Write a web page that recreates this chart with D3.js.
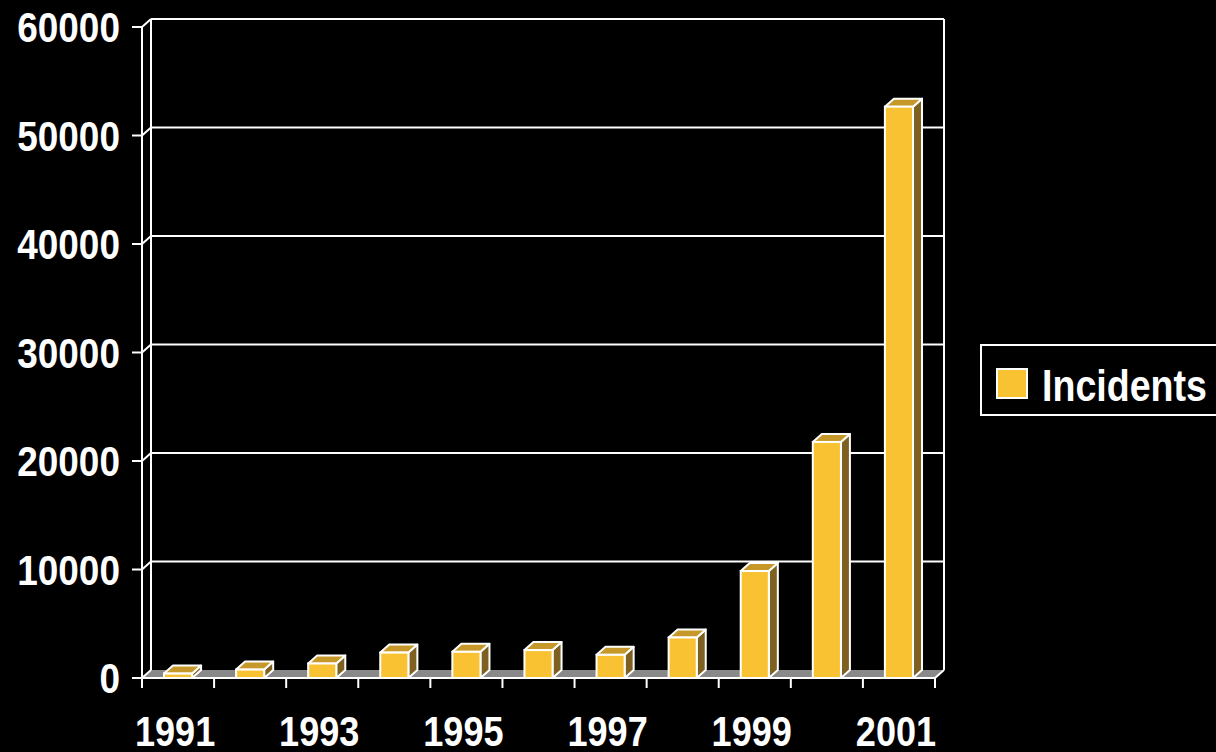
<!DOCTYPE html>
<html>
<head>
<meta charset="utf-8">
<script src="https://cdn.jsdelivr.net/npm/d3@7"></script>
<style>
  html, body { margin: 0; padding: 0; background: #000; }
  svg { display: block; }
  text { font-family: "Liberation Sans", Arial, sans-serif; font-weight: bold; fill: #fff; }
</style>
</head>
<body>
<svg id="chart" width="1216" height="752"></svg>
<script>
// CERT/CC reported incidents per year
const years = ["1991","1992","1993","1994","1995","1996","1997","1998","1999","2000","2001"];
const incidents = [406, 773, 1334, 2340, 2412, 2573, 2134, 3734, 9859, 21756, 52658];
const yTicks = [0, 10000, 20000, 30000, 40000, 50000, 60000];
const xLabels = ["1991","1993","1995","1997","1999","2001"];
const seriesName = "Incidents";

const W = 1216, H = 752;
const plotLeft = 142, plotRight = 935, plotTop = 27, plotBottom = 678;
const dx = 9, dy = 8;              // depth offset of the 3D box
const narrow = 0.86;               // horizontal squeeze for a condensed look
const colFront = "#f9c232", colTop = "#c6982a", colSide = "#7e6120", colFloor = "#898989";

const svg = d3.select("#chart");
svg.append("rect").attr("width", W).attr("height", H).attr("fill", "#000");

const x = d3.scaleBand().domain(years).range([plotLeft, plotRight]).padding(0);
const y = d3.scaleLinear().domain([0, 60000]).range([plotBottom, plotTop]);
const barW = x.bandwidth() * 0.39;

function line(g, x1, y1, x2, y2) {
  return g.append("line").attr("x1", x1).attr("y1", y1).attr("x2", x2).attr("y2", y2)
    .attr("stroke", "#fff").attr("stroke-width", 2);
}
const pts = a => a.map(p => p.join(",")).join(" ");
function label(g, tx, ty, str, size, anchor, sx) {
  return g.append("text")
    .attr("transform", `translate(${tx},${ty}) scale(${sx},1)`)
    .attr("text-anchor", anchor)
    .style("font-size", size + "px")
    .text(str);
}

// floor
svg.append("polygon")
  .attr("points", pts([[plotLeft, plotBottom], [plotRight, plotBottom], [plotRight + dx, plotBottom - dy], [plotLeft + dx, plotBottom - dy]]))
  .attr("fill", colFloor);

// back wall: gridlines and edges
const grid = svg.append("g");
yTicks.filter(t => t > 0).forEach(t => {
  line(grid, plotLeft + dx, y(t) - dy, plotRight + dx, y(t) - dy);
  line(grid, plotLeft, y(t), plotLeft + dx, y(t) - dy);
});
line(grid, plotLeft + dx, y(60000) - dy, plotLeft + dx, plotBottom - dy);
line(grid, plotRight + dx, y(60000) - dy, plotRight + dx, plotBottom - dy);
line(grid, plotLeft, plotBottom, plotLeft + dx, plotBottom - dy);
line(grid, plotRight, plotBottom, plotRight + dx, plotBottom - dy);

// bars
const bars = svg.append("g").selectAll("g").data(years.map((yr, i) => ({ yr, v: incidents[i] }))).join("g");
bars.each(function (d) {
  const g = d3.select(this);
  const x0 = x(d.yr) + (x.bandwidth() - barW) / 2, x1 = x0 + barW;
  const yv = y(d.v), y0 = y(0);
  g.append("polygon").attr("points", pts([[x1, yv], [x1 + dx, yv - dy], [x1 + dx, y0 - dy], [x1, y0]]))
    .attr("fill", colSide).attr("stroke", "#fff").attr("stroke-width", 2).attr("stroke-linejoin", "round");
  g.append("polygon").attr("points", pts([[x0, yv], [x0 + dx, yv - dy], [x1 + dx, yv - dy], [x1, yv]]))
    .attr("fill", colTop).attr("stroke", "#fff").attr("stroke-width", 2).attr("stroke-linejoin", "round");
  g.append("rect").attr("x", x0).attr("y", yv).attr("width", barW).attr("height", y0 - yv)
    .attr("fill", colFront).attr("stroke", "#fff").attr("stroke-width", 2);
});

// front axes
const axes = svg.append("g");
line(axes, plotLeft, plotTop, plotLeft, plotBottom);
line(axes, plotLeft, plotBottom, plotRight, plotBottom);

// y axis ticks + labels
const gy = svg.append("g");
yTicks.forEach(t => {
  line(gy, plotLeft - 10, y(t), plotLeft, y(t));
  label(gy, plotLeft - 22, y(t) + 15, d3.format("d")(t), 43, "end", narrow);
});

// x ticks at band boundaries
const xb = years.map(yr => x(yr)).concat([plotRight]);
xb.forEach(v => line(axes, v, plotBottom, v, plotBottom + 10));

// x labels
const gx = svg.append("g");
xLabels.forEach(d => label(gx, x(d) + x.bandwidth() / 2 - 3, 746, d, 43, "middle", 0.84));

// legend
const lg = svg.append("g");
lg.append("rect").attr("x", 981).attr("y", 345).attr("width", 260).attr("height", 70)
  .attr("fill", "none").attr("stroke", "#fff").attr("stroke-width", 2);
lg.append("rect").attr("x", 997).attr("y", 369).attr("width", 30).attr("height", 29)
  .attr("fill", colFront).attr("stroke", "#fff").attr("stroke-width", 2);
label(lg, 1042, 401, seriesName, 45, "start", 0.835);
</script>
</body>
</html>
